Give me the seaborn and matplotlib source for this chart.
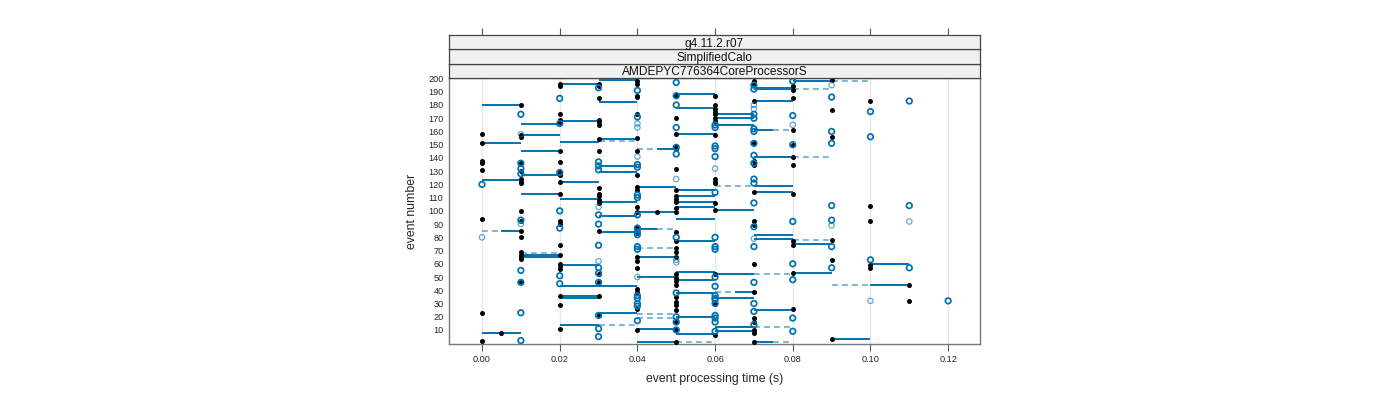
import matplotlib
matplotlib.use("Agg")
import matplotlib.pyplot as plt
import numpy as np
import pandas as pd
import seaborn as sns

# ---------------- data ----------------
strip_labels = ["g4.11.2.r07", "SimplifiedCalo", "AMDEPYC776364CoreProcessorS"]
x_ticks = [0.00, 0.02, 0.04, 0.06, 0.08, 0.10, 0.12]
y_ticks = [10, 20, 30, 40, 50, 60, 70, 80, 90, 100, 110, 120, 130, 140, 150,
           160, 170, 180, 190, 200]

black_times = [0.00, 0.005, 0.01, 0.02, 0.03, 0.04, 0.045, 0.05, 0.06, 0.07,
               0.08, 0.09, 0.10, 0.11]
black_events = [
    [158, 151, 138, 137, 136, 131, 94, 23, 2],
    [8],
    [180, 157, 156, 136, 130, 124, 122, 121, 100, 92, 85, 80, 69, 67, 65, 64, 46],
    [196, 194, 173, 169, 167, 145, 137, 129, 128, 127, 122, 113, 92, 90, 74, 67,
     60, 58, 56, 36, 29, 11],
    [196, 195, 194, 185, 169, 167, 165, 154, 145, 117, 113, 111, 108, 106, 85,
     52, 46, 36, 21],
    [198, 196, 187, 186, 173, 155, 145, 127, 118, 116, 103, 99, 88, 83, 65, 62,
     57, 41, 39, 26, 10],
    [99],
    [187, 170, 158, 148, 147, 132, 116, 111, 109, 107, 102, 99, 84, 77, 72, 69,
     65, 52, 49, 47, 44, 35, 31, 29, 25, 16, 10, 1],
    [187, 180, 177, 175, 173, 170, 168, 157, 124, 122, 121, 106, 101, 52, 30, 6],
    [198, 196, 183, 151, 138, 135, 114, 92, 89, 60, 39, 19, 16, 10, 8, 1],
    [194, 191, 185, 161, 150, 141, 135, 113, 77, 74, 53, 26],
    [199, 176, 156, 78, 63, 3],
    [183, 104, 92, 59, 57],
    [44, 32],
]

blue_times = [0.00, 0.01, 0.02, 0.03, 0.04, 0.05, 0.06, 0.07, 0.08, 0.09,
              0.10, 0.11, 0.12]
blue_events = [
    [120],
    [173, 136, 132, 128, 93, 55, 46, 23, 2],
    [185, 166, 129, 100, 87, 51, 45],
    [193, 137, 134, 131, 97, 90, 74, 57, 53, 46, 21, 11, 5],
    [191, 171, 135, 133, 112, 110, 97, 87, 84, 82, 73, 71, 36, 34, 30, 28, 17],
    [197, 187, 180, 163, 148, 143, 80, 38, 20, 16, 10],
    [165, 163, 149, 147, 141, 114, 80, 73, 71, 50, 43, 36, 34, 33, 30, 21, 19,
     16, 9],
    [195, 192, 173, 170, 162, 160, 151, 142, 136, 124, 121, 106, 88, 73, 46, 30,
     24, 14],
    [198, 172, 150, 92, 60, 48, 19, 9],
    [186, 160, 151, 104, 93, 73, 57],
    [175, 156, 63],
    [183, 104, 57],
    [32],
]

faint_times = [0.00, 0.01, 0.03, 0.04, 0.05, 0.06, 0.07, 0.08, 0.09, 0.10, 0.11]
faint_events = [
    [80],
    [158, 90],
    [103, 62],
    [166, 163, 141, 50],
    [124, 63, 61],
    [132],
    [180, 177, 79],
    [165],
    [195, 89],
    [32],
    [92],
]

seg_event = [180, 166, 157, 151, 145, 127, 123, 113, 85, 67, 65, 8,
             199, 196, 182, 168, 154, 152, 134, 129, 122, 109, 107, 96, 84,
             59, 43, 36, 34, 23, 14,
             188, 178, 158, 147, 118, 116, 111, 107, 103, 99, 94, 86, 77, 65,
             54, 50, 48, 38, 20, 11, 7, 1,
             192, 193, 183, 173, 170, 165, 161, 141, 119, 114, 101, 82, 79, 52,
             39, 34, 25, 12, 9, 1,
             198, 75, 53, 60, 44, 3]
seg_start = [0.00, 0.01, 0.01, 0.00, 0.01, 0.01, 0.00, 0.01, 0.005, 0.01, 0.01, 0.00,
             0.03, 0.02, 0.03, 0.02, 0.03, 0.02, 0.03, 0.03, 0.02, 0.02, 0.03, 0.03, 0.03,
             0.02, 0.02, 0.02, 0.02, 0.03, 0.02,
             0.05, 0.05, 0.05, 0.045, 0.04, 0.05, 0.05, 0.05, 0.05, 0.04, 0.05, 0.04, 0.05, 0.04,
             0.05, 0.04, 0.05, 0.05, 0.05, 0.04, 0.05, 0.04,
             0.07, 0.07, 0.07, 0.06, 0.06, 0.06, 0.07, 0.07, 0.07, 0.07, 0.06, 0.07, 0.07, 0.06,
             0.065, 0.06, 0.07, 0.06, 0.06, 0.07,
             0.08, 0.08, 0.08, 0.10, 0.10, 0.09]
seg_end = [0.01, 0.02, 0.02, 0.01, 0.02, 0.02, 0.01, 0.02, 0.01, 0.02, 0.02, 0.01,
           0.04, 0.03, 0.04, 0.03, 0.04, 0.03, 0.04, 0.04, 0.03, 0.03, 0.04, 0.04, 0.04,
           0.03, 0.04, 0.03, 0.03, 0.04, 0.03,
           0.06, 0.06, 0.06, 0.05, 0.05, 0.06, 0.06, 0.06, 0.06, 0.05, 0.06, 0.045, 0.06, 0.05,
           0.06, 0.05, 0.06, 0.06, 0.06, 0.05, 0.06, 0.05,
           0.08, 0.08, 0.08, 0.07, 0.07, 0.07, 0.075, 0.08, 0.08, 0.08, 0.07, 0.08, 0.08, 0.07,
           0.07, 0.07, 0.08, 0.07, 0.07, 0.075,
           0.09, 0.09, 0.09, 0.11, 0.11, 0.10]

dash_event = [85, 68, 153, 147, 86, 72, 22, 19, 14, 1, 161, 119, 52, 39, 12, 1,
              198, 192, 141, 78, 44]
dash_start = [0.00, 0.01, 0.03, 0.04, 0.045, 0.04, 0.04, 0.04, 0.03, 0.05, 0.075, 0.06,
              0.07, 0.06, 0.07, 0.075, 0.09, 0.08, 0.08, 0.08, 0.09]
dash_end = [0.005, 0.02, 0.04, 0.045, 0.05, 0.05, 0.05, 0.05, 0.04, 0.06, 0.08, 0.07,
            0.08, 0.065, 0.08, 0.08, 0.10, 0.09, 0.09, 0.09, 0.10]

# ---------------- tables ----------------
def long_table(times, events):
    rows = [(t, e) for t, evs in zip(times, events) for e in evs]
    return pd.DataFrame(rows, columns=["time", "event"])

black_df = long_table(black_times, black_events)
blue_df = long_table(blue_times, blue_events)
faint_df = long_table(faint_times, faint_events)

# ---------------- style ----------------
sns.set_theme(style="white")
plt.rcParams["font.family"] = ["Liberation Sans", "DejaVu Sans"]

BLUE = "#0072B2"
W, H = 1400, 400
fig = plt.figure(figsize=(W / 100, H / 100), dpi=100)

px_l, px_r, px_t, px_b = 449, 980, 78, 344
ax = fig.add_axes([px_l / W, 1 - px_b / H, (px_r - px_l) / W, (px_b - px_t) / H])

ax.set_xlim(-0.0085, 0.1282)
ax.set_ylim(-0.6, 200.4)

ax.hlines(seg_event, seg_start, seg_end, colors=BLUE, linewidth=1.4, zorder=2)
ax.hlines(dash_event, dash_start, dash_end, colors=BLUE, alpha=0.6,
          linewidth=1.2, linestyles=(0, (3.5, 2.5)), zorder=2)

sns.scatterplot(data=black_df, x="time", y="event", color="black", s=13,
                linewidth=0, ax=ax, zorder=3)
sns.scatterplot(data=faint_df, x="time", y="event", color=BLUE, facecolor="none",
                edgecolor=BLUE, alpha=0.6, s=15, linewidth=0.9, ax=ax, zorder=4)
sns.scatterplot(data=blue_df, x="time", y="event", color=BLUE, facecolor="none",
                edgecolor=BLUE, s=16, linewidth=1.25, ax=ax, zorder=4)

ax.set_xticks(x_ticks)
ax.set_xticklabels([f"{v:.2f}" for v in x_ticks])
ax.set_yticks(y_ticks)
ax.set_yticklabels([str(v) for v in y_ticks])
ax.tick_params(axis="x", direction="out", length=5, width=0.8, color="#555555",
               labelsize=6.6, pad=3, bottom=True)
ax.tick_params(axis="y", direction="out", length=0, labelsize=6.6, pad=4, left=True)
ax.grid(axis="x", color="#e6e6e6", linewidth=0.9, zorder=0)
ax.grid(axis="y", visible=False)
ax.set_axisbelow(True)
for sp in ax.spines.values():
    sp.set_color("#777777")
    sp.set_linewidth(1.0)

ax.set_xlabel("event processing time (s)", fontsize=8.8)
ax.set_ylabel("event number", fontsize=8.8)
ax.xaxis.set_label_coords(0.5, -0.11)
ax.yaxis.set_label_coords(-0.058, 0.5)

# strips
strip_h = 14.4
for i, lab in enumerate(reversed(strip_labels)):
    top = px_t - strip_h * (i + 1)
    sax = fig.add_axes([px_l / W, 1 - (top + strip_h) / H, (px_r - px_l) / W, strip_h / H])
    sax.set_facecolor("#f0f0f0")
    sax.set_xlim(ax.get_xlim())
    sax.set_yticks([])
    for sp in sax.spines.values():
        sp.set_color("#444444")
        sp.set_linewidth(0.9)
    sax.text(0.5, 0.5, lab, transform=sax.transAxes, ha="center", va="center_baseline",
             fontsize=8.6, color="#111111")
    if i == len(strip_labels) - 1:
        sax.set_xticks(x_ticks)
        sax.tick_params(axis="x", top=True, bottom=False, labeltop=False,
                        labelbottom=False, direction="out", length=5, width=0.8,
                        color="#555555")
    else:
        sax.set_xticks([])

fig.savefig("out.png", dpi=100)
